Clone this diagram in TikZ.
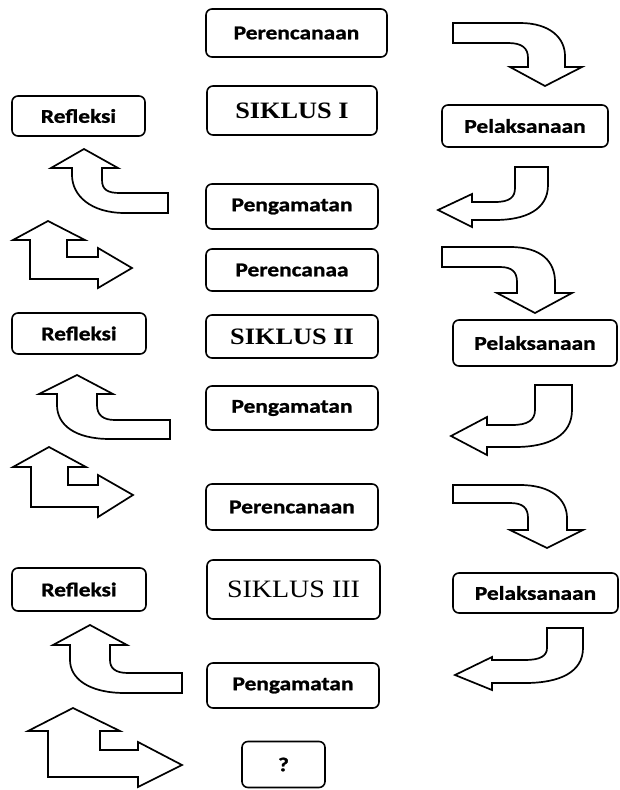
\documentclass[tikz,border=0pt]{standalone}
\usepackage{fontspec}
\newfontfamily\lblfont[FakeStretch=1.2,BoldFeatures={FakeBold=1.2}]{Carlito}
\newfontfamily\sikfont[FakeStretch=1.12]{Liberation Serif}
\begin{document}
\begin{tikzpicture}[x=1pt,y=-1pt,
  box/.style={draw, line width=1.6pt, rounded corners=6pt, inner sep=0pt, align=center},
  lbl/.style={box, font=\lblfont\bfseries\fontsize{19.5}{21}\selectfont},
  sik/.style={box, font=\sikfont\bfseries\fontsize{23.5}{25}\selectfont},
  sikreg/.style={box, font=\sikfont\fontsize{25}{27}\selectfont},
  bigarrow/.style={draw, line width=1.7pt, line join=miter, fill=white}]
\useasboundingbox (0,0) rectangle (620,790);

% ---- boxes, cycle 1
\node[lbl, minimum width=181pt, minimum height=48pt] (p1) at (296.5,33) {Perencanaan};
\node[sik, minimum width=170pt, minimum height=49pt] (s1) at (292,110.5) {SIKLUS I};
\node[lbl, minimum width=133pt, minimum height=40pt] (r1) at (78.5,116) {Refleksi};
\node[lbl, minimum width=166pt, minimum height=42pt] (l1) at (525,126) {Pelaksanaan};
\node[lbl, minimum width=172pt, minimum height=45pt] (g1) at (292,206.5) {Pengamatan};
% ---- cycle 2
\node[lbl, minimum width=172pt, minimum height=42pt] (p2) at (292,270) {Perencanaa};
\node[sik, minimum width=172pt, minimum height=43pt] (s2) at (292,336.5) {SIKLUS II};
\node[lbl, minimum width=134pt, minimum height=41pt] (r2) at (79,333.5) {Refleksi};
\node[lbl, minimum width=164pt, minimum height=46pt] (l2) at (535,343) {Pelaksanaan};
\node[lbl, minimum width=172pt, minimum height=44pt] (g2) at (292,408) {Pengamatan};
% ---- cycle 3
\node[lbl, minimum width=172pt, minimum height=46pt] (p3) at (292,507) {Perencanaan};
\node[sikreg, minimum width=173pt, minimum height=59pt] (s3) at (293.5,589.5) {SIKLUS III};
\node[lbl, minimum width=134pt, minimum height=43pt] (r3) at (79,589.5) {Refleksi};
\node[lbl, minimum width=165pt, minimum height=40pt] (l3) at (535.5,593) {Pelaksanaan};
\node[lbl, minimum width=172pt, minimum height=45pt] (g3) at (293,685.5) {Pengamatan};
\node[lbl, minimum width=83pt, minimum height=46pt] (q) at (283.5,764.5) {?};

% ---- curved arrows down (Perencanaan -> Pelaksanaan)
\draw[bigarrow] (453,23) -- (520,23) .. controls (550,23) and (565,38) .. (565,56) -- (565,67)
  -- (582,67) -- (545,86) -- (510,67) -- (528,67) -- (528,58)
  .. controls (528,48) and (522,43) .. (508,43) -- (453,43) -- cycle;
\draw[bigarrow] (442,247) -- (510,247) .. controls (542,247) and (555,262) .. (555,282) -- (555,293)
  -- (572,293) -- (535,313) -- (497,293) -- (517,293) -- (517,282)
  .. controls (517,272) and (512,267) .. (500,267) -- (442,267) -- cycle;
\draw[bigarrow] (453,485) -- (520,485) .. controls (552,485) and (567,500) .. (567,518) -- (567,530)
  -- (583,530) -- (547,548) -- (510,530) -- (528,530) -- (528,518)
  .. controls (528,508) and (523,503) .. (510,503) -- (453,503) -- cycle;

% ---- curved arrows left (Pelaksanaan -> Pengamatan)
\draw[bigarrow] (515,167) -- (548,167) -- (548,185) .. controls (548,210) and (525,220) .. (495,220)
  -- (472,220) -- (472,227) -- (438,210) -- (472,194) -- (472,202) -- (495,202)
  .. controls (510,202) and (515,197) .. (515,188) -- cycle;
\draw[bigarrow] (535,385) -- (572,385) -- (572,410) .. controls (572,435) and (550,447) .. (515,447)
  -- (487,447) -- (487,455) -- (451,436) -- (487,417) -- (487,425) -- (512,425)
  .. controls (528,425) and (535,420) .. (535,410) -- cycle;
\draw[bigarrow] (547,628) -- (583,628) -- (583,648) .. controls (583,672) and (560,683) .. (525,683)
  -- (492,683) -- (492,690) -- (455,675) -- (492,657) -- (492,660) -- (525,660)
  .. controls (540,660) and (547,656) .. (547,648) -- cycle;

% ---- curved arrows up (Pengamatan -> Refleksi)
\draw[bigarrow] (84,149) -- (118,168) -- (102,168) -- (102,180)
  .. controls (102,190) and (108,193) .. (120,193) -- (168,193) -- (168,213) -- (125,213)
  .. controls (90,213) and (72,195) .. (72,175) -- (72,168) -- (51,168) -- cycle;
\draw[bigarrow] (77,375) -- (113,394) -- (97,394) -- (97,405)
  .. controls (97,415) and (103,420) .. (115,420) -- (170,420) -- (170,439) -- (110,439)
  .. controls (75,439) and (57,425) .. (57,405) -- (57,394) -- (39,394) -- cycle;
\draw[bigarrow] (90,625) -- (127,645) -- (110,645) -- (110,660)
  .. controls (110,668) and (115,673) .. (128,673) -- (182,673) -- (182,693) -- (125,693)
  .. controls (88,693) and (70,678) .. (70,660) -- (70,645) -- (53,645) -- cycle;

% ---- double arrows (up and right)
\draw[bigarrow] (48,221) -- (85,240) -- (67,240) -- (67,257) -- (98,257) -- (98,248)
  -- (132,268) -- (98,288) -- (98,279) -- (30,279) -- (30,240) -- (13,240) -- cycle;
\draw[bigarrow] (49,447) -- (86,467) -- (68,467) -- (68,485) -- (98,485) -- (98,475)
  -- (133,495) -- (98,517) -- (98,507) -- (31,507) -- (31,467) -- (13,467) -- cycle;
\draw[bigarrow] (73,708) -- (120,731) -- (100,731) -- (100,750) -- (138,750) -- (138,742)
  -- (182,765) -- (138,787) -- (138,777) -- (48,777) -- (48,731) -- (28,731) -- cycle;
\end{tikzpicture}
\end{document}
